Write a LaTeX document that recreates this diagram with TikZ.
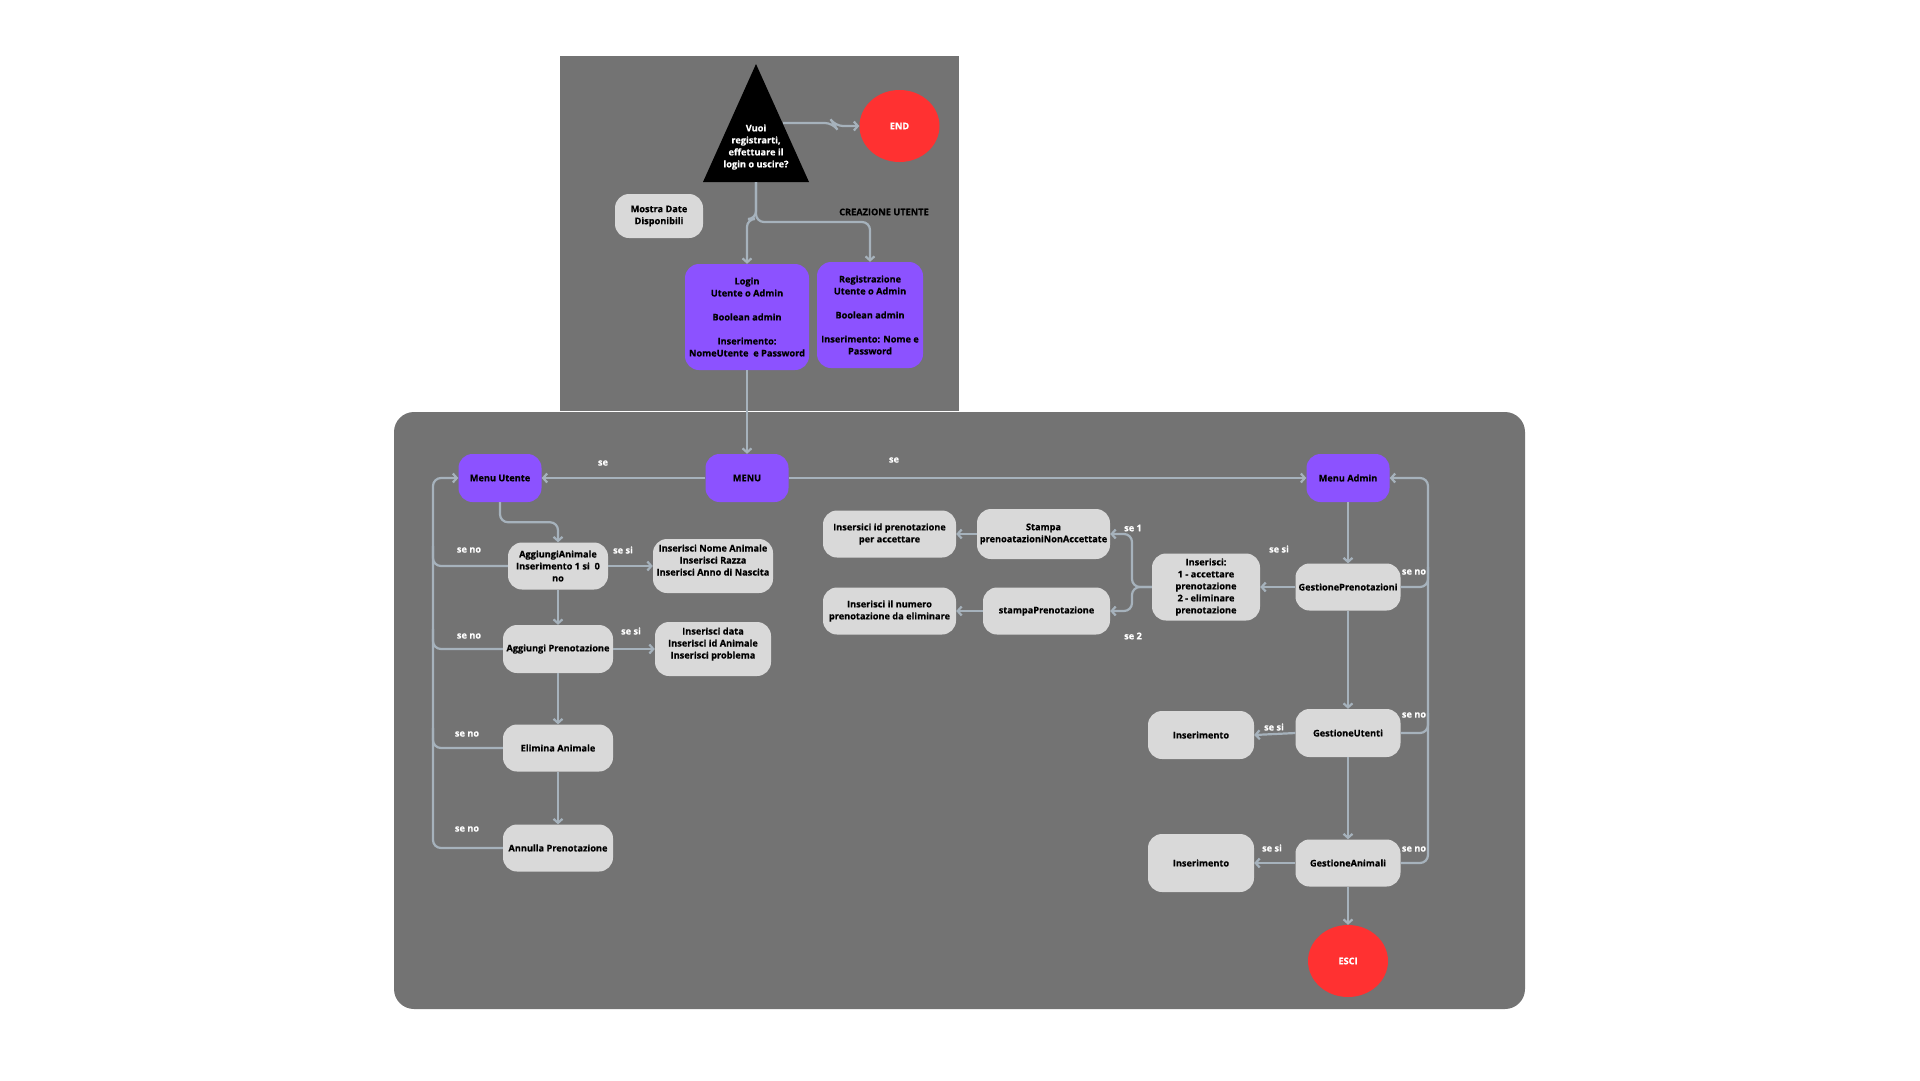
\documentclass[tikz,border=0pt]{standalone}
\usepackage{fontspec}
\setmainfont{Open Sans}[BoldFeatures={FakeBold=0.5}]
\usetikzlibrary{arrows.meta,shapes.geometric,calc}
\definecolor{bgc}{RGB}{115,115,115}
\definecolor{purp}{RGB}{140,82,255}
\definecolor{lgray}{RGB}{217,217,217}
\definecolor{connc}{RGB}{166,178,188}
\definecolor{redc}{RGB}{255,49,49}
\begin{document}
\begin{tikzpicture}[x=1pt,y=-1pt,
 every node/.style={font=\fontsize{9.2}{12}\selectfont\bfseries, align=center, inner sep=0pt},
 lbox/.style={fill=lgray, rounded corners=14pt},
 pbox/.style={fill=purp, rounded corners=14pt},
 rnode/.style={ellipse, fill=redc, text=white, minimum width=80pt, minimum height=72pt},
 lab/.style={text=white},
 cn/.style={draw=connc, line width=2.2pt, rounded corners=8pt},
 ar/.style={-{Straight Barb[length=4pt,width=9pt]}},
]
\fill[white] (0,0) rectangle (1920,1080);
\useasboundingbox (0,0) rectangle (1920,1080);
% panels
\fill[bgc] (560,56) rectangle (959,410.5);
\fill[bgc, rounded corners=20pt] (394,412) rectangle (1525,1009);
% triangle
\fill[black] (756,64) -- (809,182) -- (703,182) -- cycle;
\node[text=white] (q) at (756,147) {Vuoi\\registrarti,\\effettuare il\\login o uscire?};
\coordinate (qb) at (756,182);
\coordinate (qr) at (783,123);
\node[rnode] (end) at (899.5,126) {END};
\node[lbox, minimum width=88pt, minimum height=44pt] (mostra) at (659,216) {Mostra Date\\Disponibili};
\node (crea) at (884,212) {CREAZIONE UTENTE};
\node[pbox, minimum width=124pt, minimum height=106pt] (login) at (747,317) {Login\\Utente o Admin\\[12pt]Boolean admin\\[12pt]Inserimento:\\NomeUtente\ \ e Password};
\node[pbox, minimum width=106pt, minimum height=106pt] (reg) at (870,315) {Registrazione\\Utente o Admin\\[12pt]Boolean admin\\[12pt]Inserimento: Nome e\\Password};
% menus
\node[pbox, minimum width=83pt, minimum height=48pt] (menu) at (747,478) {MENU};
\node[pbox, minimum width=83pt, minimum height=48pt] (mu) at (500,478) {Menu Utente};
\node[pbox, minimum width=83pt, minimum height=48pt] (ma) at (1348,478) {Menu Admin};
% user side
\node[lbox, minimum width=100pt, minimum height=47pt] (aa) at (558,566) {AggiungiAnimale\\Inserimento 1 si\ \ 0\\no};
\node[lbox, minimum width=120pt, minimum height=54pt] (ina) at (713,566) {Inserisci Nome Animale\\Inserisci Razza\\Inserisci Anno di Nascita\\[0pt]\mbox{}};
\node[lbox, minimum width=110pt, minimum height=48pt] (ap) at (558,649) {Aggiungi Prenotazione};
\node[lbox, minimum width=116pt, minimum height=54pt] (ida) at (713,649) {Inserisci data\\Inserisci id Animale\\Inserisci problema\\[0pt]\mbox{}};
\node[lbox, minimum width=110pt, minimum height=47pt] (ea) at (558,748) {Elimina Animale};
\node[lbox, minimum width=110pt, minimum height=47pt] (anp) at (558,848) {Annulla Prenotazione};
% admin side
\node[lbox, minimum width=105pt, minimum height=47pt] (gp) at (1348,587) {GestionePrenotazioni};
\node[lbox, minimum width=108pt, minimum height=67pt] (ins) at (1206,587) {Inserisci:\\1 - accettare\\prenotazione\\2 - eliminare\\prenotazione};
\node[lbox, minimum width=133pt, minimum height=50pt] (st) at (1043.5,534) {Stampa\\prenoatazioniNonAccettate};
\node[lbox, minimum width=133pt, minimum height=47pt] (iid) at (889.5,534) {Insersici id prenotazione\\per accettare};
\node[lbox, minimum width=127pt, minimum height=47pt] (sp) at (1046.5,611) {stampaPrenotazione};
\node[lbox, minimum width=133pt, minimum height=47pt] (inn) at (889.5,611) {Inserisci il numero\\prenotazione da eliminare};
\node[lbox, minimum width=105pt, minimum height=48pt] (gu) at (1348,733) {GestioneUtenti};
\node[lbox, minimum width=106pt, minimum height=48pt] (in1) at (1201,735) {Inserimento};
\node[lbox, minimum width=105pt, minimum height=47pt] (ga) at (1348,863) {GestioneAnimali};
\node[lbox, minimum width=106pt, minimum height=58pt] (in2) at (1201,863) {Inserimento};
\node[rnode] (esci) at (1348,961) {ESCI};
% labels
\node[lab] (l1) at (603,463) {se};
\node[lab] (l2) at (894,460) {se};
\node[lab] (l3) at (469,550) {se no};
\node[lab] (l4) at (623,550) {se si};
\node[lab] (l5) at (469,636) {se no};
\node[lab] (l6) at (631,631) {se si};
\node[lab] (l7) at (467,734) {se no};
\node[lab] (l8) at (467,829) {se no};
\node[lab] (l9) at (1133,528) {se 1};
\node[lab] (l10) at (1133,636) {se 2};
\node[lab] (l11) at (1279,549) {se si};
\node[lab] (l12) at (1414,572) {se no};
\node[lab] (l13) at (1414,715) {se no};
\node[lab] (l14) at (1414,849) {se no};
\node[lab] (l15) at (1274,727) {se si};
\node[lab] (l16) at (1272,848) {se si};
% connectors top
\draw[cn,ar] (qr) -- ++(50,0) -- ++(2,3) -- (end.west);
\draw[cn,ar] (qb) -- (756,219) -| (login.north);
\draw[cn,ar] (qb) |- (reg.north |- 0,222) -- (reg.north);
\draw[cn,ar] (login.south) -- (menu.north);
\draw[cn,ar] (menu.west) -- (mu.east);
\draw[cn,ar] (menu.east) -- (ma.west);
% user connectors
\coordinate (lx) at (433,600);
\draw[cn,ar] (mu.south) |- ($(mu.south)!.5!(aa.north)$) -| (aa.north);
\draw[cn,ar] (aa.east) -- (ina.west);
\draw[cn,ar] (aa.south) -- (ap.north);
\draw[cn,ar] (ap.east) -- (ida.west);
\draw[cn,ar] (ap.south) -- (ea.north);
\draw[cn,ar] (ea.south) -- (anp.north);
\draw[cn,ar] (anp.west) -- (anp.west -| lx) -- (mu.west -| lx) -- (mu.west);
\draw[cn] (aa.west) -- (aa.west -| lx) -- ++(0,-20);
\draw[cn] (ap.west) -- (ap.west -| lx) -- ++(0,-20);
\draw[cn] (ea.west) -- (ea.west -| lx) -- ++(0,-20);
% admin connectors
\coordinate (rx) at (1428,600);
\coordinate (bx) at (1132,587);
\draw[cn,ar] (ma.south) -- (gp.north);
\draw[cn,ar] (gp.south) -- (gu.north);
\draw[cn,ar] (gu.south) -- (ga.north);
\draw[cn,ar] (ga.south) -- (esci.north);
\draw[cn,ar] (gp.west) -- (ins.east);
\draw[cn,ar] (ins.west) -- (bx) |- (st.east);
\draw[cn,ar] (ins.west) -- (bx) |- (sp.east);
\draw[cn,ar] (st.west) -- (iid.east);
\draw[cn,ar] (sp.west) -- (inn.east);
\draw[cn,ar] (gu.west) -- (in1.east);
\draw[cn,ar] (ga.west) -- (in2.east);
\draw[cn,ar] (ga.east) -- (ga.east -| rx) -- (ma.east -| rx) -- (ma.east);
\draw[cn] (gp.east) -- (gp.east -| rx) -- ++(0,-20);
\draw[cn] (gu.east) -- (gu.east -| rx) -- ++(0,-20);
\end{tikzpicture}
\end{document}
